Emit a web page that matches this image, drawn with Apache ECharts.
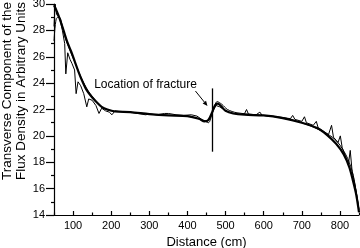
<!DOCTYPE html>
<html><head><meta charset="utf-8">
<script src="https://cdn.jsdelivr.net/npm/echarts@6/dist/echarts.min.js"></script>
<style>html,body{margin:0;padding:0;background:#fff}#c{width:360px;height:248px}</style>
</head><body><div id="c"></div>
<script>
// Smooth fitted curve (thick)
const fitX = [50,58,66,75,85,95,105,115,125,135,145,160,175,190,210,250,300,350,400,430,445,455,465,472,480,490,500,520,550,600,650,700,740,765,790,810,825,835,843,850];
const fitY = [29.9,29.4,28.8,28.0,27.1,26.4,25.6,24.8,24.1,23.5,23.1,22.6,22.2,22.0,21.85,21.8,21.65,21.55,21.5,21.3,21.1,21.2,21.8,22.3,22.45,22.2,21.9,21.7,21.6,21.55,21.35,21.0,20.6,20.1,19.4,18.6,17.6,16.5,15.5,14.2];
// Second thin smooth curve
const fit2X = [50,56,64,72,80,90,100,110,120,130,140,150,165,180,200,250,300,350,400,440,455,465,478,490,505,530,600,650,700,750,780,800,820,835,850];
const fit2Y = [27.2,28.9,29.0,28.3,27.4,26.6,25.9,25.2,24.5,23.9,23.4,23.0,22.5,22.1,21.9,21.8,21.65,21.55,21.5,21.2,21.0,21.7,22.6,22.4,22.0,21.75,21.55,21.35,21.0,20.4,19.9,19.3,18.3,17.0,14.4];
// Measured curve with spikes (thin)
const rawX = [50,53,57,65,72,78,81,86,92,97,104,108,113,120,128,136,141,150,160,168,175,185,195,202,210,230,250,270,290,300,320,340,350,370,390,410,425,440,452,460,465,475,485,500,520,540,550,555,560,580,590,596,620,650,670,676,682,700,707,712,730,738,743,760,770,778,783,795,801,806,815,822,827,832,840,850];
const rawY = [28.3,30.0,29.2,28.9,28.0,27.0,24.7,26.3,25.8,25.5,25.0,23.2,24.1,23.8,23.2,22.2,22.8,22.7,22.3,21.7,22.1,21.9,21.8,21.6,21.9,21.85,21.8,21.7,21.6,21.65,21.6,21.7,21.7,21.6,21.55,21.6,21.5,21.2,21.1,21.4,21.8,22.3,22.2,21.9,21.7,21.65,21.7,22.0,21.65,21.6,21.8,21.55,21.5,21.4,21.3,21.55,21.25,21.1,21.45,21.0,20.8,21.1,20.6,20.3,20.1,20.8,19.9,19.5,20.0,19.1,18.4,17.8,18.9,17.3,16.2,14.4];
const xLabels = [100,200,300,400,500,600,700,800];
const xMinor = [50,150,250,350,450,550,650,750,850];
const fractureX = 465;
const fractureRange = [18.8, 23.6];
const arrowFrom = [421, 23.4];
const arrowTo = [452.6, 22.27];
const noteAt = [290, 23.86];
const yTitle1 = 'Transverse Component of the';
const yTitle2 = 'Flux Density in Arbitrary Units';
const xTitle = 'Distance (cm)';
const noteText = 'Location of fracture';

const font = 'Liberation Sans, Arial, Helvetica, sans-serif';
const zip = (a,b)=>a.map((v,i)=>[v,b[i]]);
const chart = echarts.init(document.getElementById('c'), null, {renderer:'canvas'});
chart.setOption({
  animation:false,
  grid:{left:54,right:1,top:4,bottom:33,containLabel:false,outerBoundsMode:'none'},
  xAxis:[{
    type:'value',min:50,max:850,
    name:xTitle,nameLocation:'middle',nameGap:20,
    nameTextStyle:{fontFamily:font,fontSize:13,color:'#000'},
    axisLine:{lineStyle:{color:'#000',width:1.2}},
    axisTick:{show:true,inside:true,length:4,customValues:xLabels,lineStyle:{color:'#000',width:1.2}},
    axisLabel:{customValues:xLabels,fontFamily:font,fontSize:11,color:'#000',margin:5},
    splitLine:{show:false}
  },{
    type:'value',min:50,max:850,position:'bottom',
    axisLine:{show:false},
    axisTick:{show:true,inside:true,length:2.5,customValues:xMinor,lineStyle:{color:'#000',width:1.2}},
    axisLabel:{show:false},splitLine:{show:false}
  }],
  yAxis:{
    type:'value',min:14,max:30,interval:2,
    axisLine:{show:true,lineStyle:{color:'#000',width:1.2}},
    axisTick:{show:true,inside:false,length:8,lineStyle:{color:'#000',width:1.2}},
    minorTick:{show:true,splitNumber:2,length:3,lineStyle:{color:'#000',width:1.2}},
    axisLabel:{fontFamily:font,fontSize:11,color:'#000',margin:9},
    splitLine:{show:false}
  },
  series:[
    {type:'line',data:zip(rawX,rawY),symbol:'none',lineStyle:{color:'#000',width:1},
     markLine:{silent:true,symbol:['none','none'],label:{show:false},
       lineStyle:{color:'#000',width:1.3,type:'solid'},
       data:[[{coord:[fractureX,fractureRange[0]]},{coord:[fractureX,fractureRange[1]]}]]}
    },
    {type:'line',data:zip(fit2X,fit2Y),symbol:'none',smooth:0.3,lineStyle:{color:'#000',width:1}},
    {type:'line',data:zip(fitX,fitY),symbol:'none',smooth:0.3,lineStyle:{color:'#000',width:2.2}}
  ]
});
// annotation elements anchored at data coordinates
const px = v => chart.convertToPixel({gridIndex:0}, v);
const a0 = px(arrowFrom), a1 = px(arrowTo), tp = px(noteAt);
const ang = Math.atan2(a1[1]-a0[1], a1[0]-a0[0]);
const hl = 5, hw = 2.2;
const back = [a1[0]-hl*Math.cos(ang), a1[1]-hl*Math.sin(ang)];
const head = [a1,
  [back[0]+hw*Math.sin(ang), back[1]-hw*Math.cos(ang)],
  [back[0]-hw*Math.sin(ang), back[1]+hw*Math.cos(ang)]];
chart.setOption({graphic:[
  {type:'text',x:7,y:91,rotation:Math.PI/2,style:{text:yTitle1,font:'13.5px '+font,fill:'#000',textAlign:'center',textVerticalAlign:'middle'}},
  {type:'text',x:21,y:91,rotation:Math.PI/2,style:{text:yTitle2,font:'13.5px '+font,fill:'#000',textAlign:'center',textVerticalAlign:'middle'}},
  {type:'text',x:tp[0],y:tp[1],style:{text:noteText,font:'12px '+font,fill:'#000',textAlign:'center',textVerticalAlign:'middle'}},
  {type:'line',shape:{x1:a0[0],y1:a0[1],x2:back[0],y2:back[1]},style:{stroke:'#000',lineWidth:1}},
  {type:'polygon',shape:{points:head},style:{fill:'#000'}}
]});
</script></body></html>
